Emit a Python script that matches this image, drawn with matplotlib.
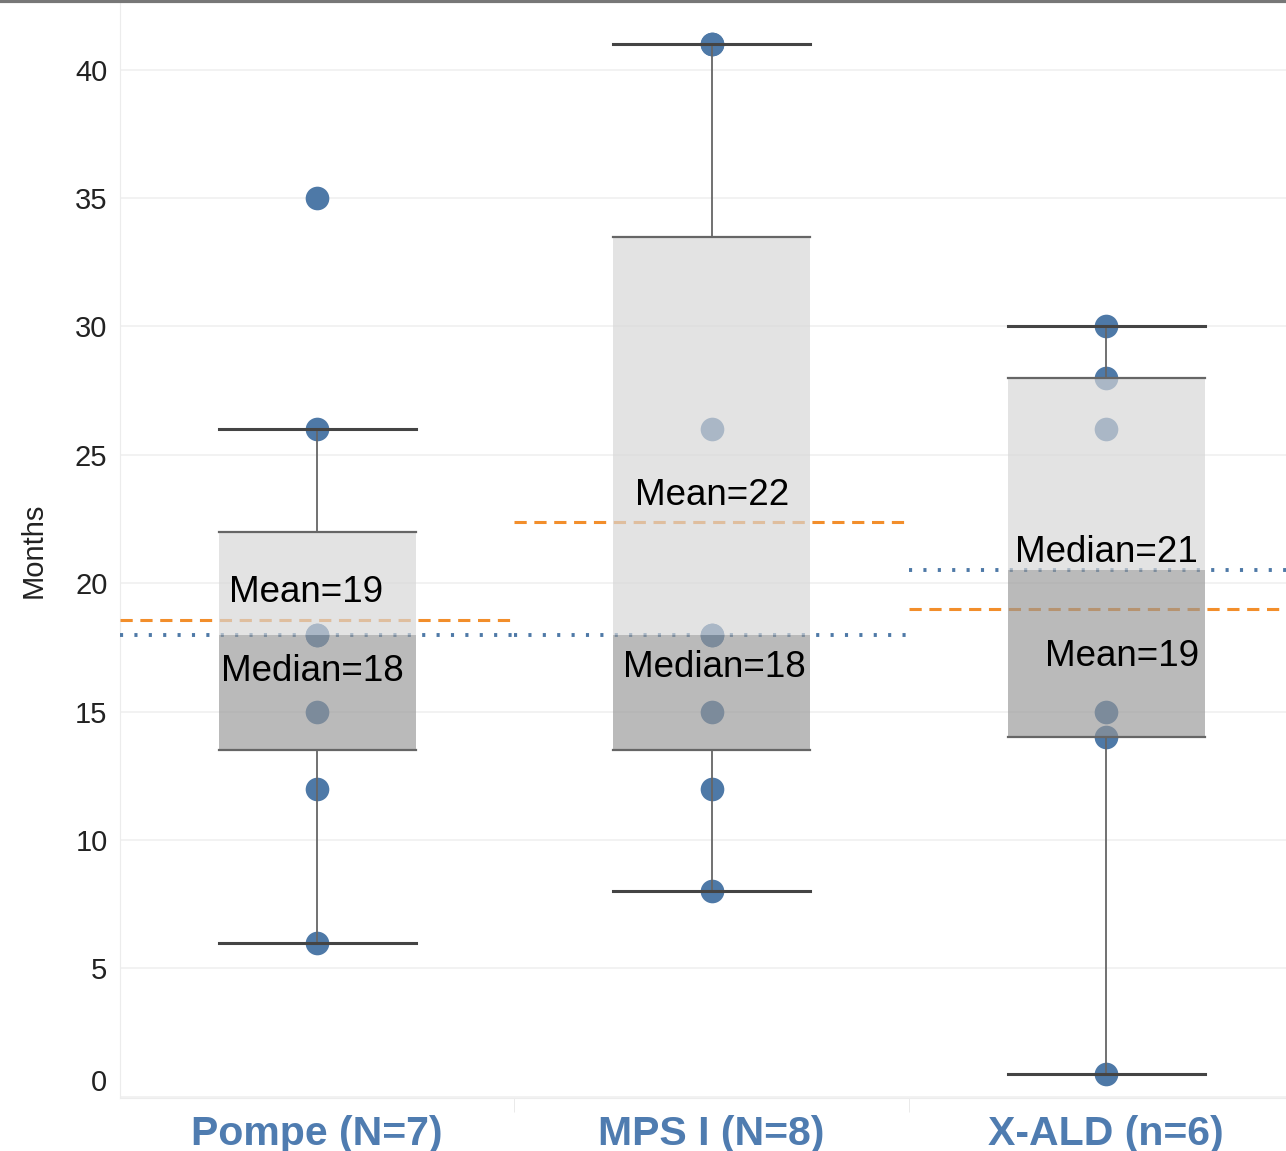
import numpy as np
import matplotlib.pyplot as plt
from matplotlib.lines import Line2D

groups = ["Pompe (N=7)", "MPS I (N=8)", "X-ALD (n=6)"]
pompe = [6, 12, 15, 18, 18, 26, 35]
mps = [8, 12, 15, 18, 18, 26, 41, 41]
xald = [0.9, 14, 15, 26, 28, 30]
q1 = [13.5, 13.5, 14]
q3 = [22, 33.5, 28]
wlo = [6, 8, 0.9]
whi = [26, 41, 30]
mean_txt = ["Mean=19", "Mean=22", "Mean=19"]
med_txt = ["Median=18", "Median=18", "Median=21"]

blue = "#4e79a7"
orange = "#f28e2b"
plt.rcParams["font.family"] = ["Liberation Sans", "DejaVu Sans"]

fig = plt.figure(figsize=(12.86, 11.51), dpi=100)
ax = fig.add_axes([120/1286, 53/1151, 1166/1286, 1095/1151])
ax.set_xlim(-0.5, 2.456)
ax.set_ylim(-0.05, 42.6)

for y in range(0, 45, 5):
    ax.axhline(y, color="#f0f0f0", lw=1.2, zorder=0)

data = [pompe, mps, xald]
hw = 0.25
for i, vals in enumerate(data):
    vals = np.array(vals)
    med = np.median(vals)
    mn = vals.mean()
    # points
    ax.scatter(np.full(len(vals), i), vals, s=290, color=blue, zorder=2, linewidths=0)
    # reference lines across the pane
    ax.plot([i - 0.5, i + 0.5], [mn, mn], color=orange, lw=2.2, ls=(0, (4, 2.5)), zorder=3)
    ax.plot([i - 0.5, i + 0.5], [med, med], color=blue, lw=2.8, ls=(0, (0.8, 2.9)), zorder=3)
    # box
    ax.fill_between([i - hw, i + hw], med, q3[i], color="#d6d6d6", alpha=0.68, lw=0, zorder=4)
    ax.fill_between([i - hw, i + hw], q1[i], med, color="#969696", alpha=0.65, lw=0, zorder=4)
    ax.plot([i - hw, i + hw], [q3[i], q3[i]], color="#666666", lw=1.6, zorder=5)
    ax.plot([i - hw, i + hw], [q1[i], q1[i]], color="#666666", lw=1.6, zorder=5)
    # whiskers
    ax.plot([i, i], [q3[i], whi[i]], color="#666666", lw=1.3, zorder=5)
    ax.plot([i, i], [wlo[i], q1[i]], color="#666666", lw=1.3, zorder=5)
    ax.plot([i - hw, i + hw], [whi[i], whi[i]], color="#444444", lw=2.2, zorder=5)
    ax.plot([i - hw, i + hw], [wlo[i], wlo[i]], color="#444444", lw=2.2, zorder=5)

# labels
mean_pos = [(-0.028, 19.64), (1.0, 23.42), (2.04, 17.15)]
med_pos = [(-0.013, 16.56), (1.006, 16.72), (2.0, 21.2)]
for i in range(3):
    ax.text(*mean_pos[i], mean_txt[i], fontsize=26.5, ha="center", va="center", zorder=6)
    ax.text(*med_pos[i], med_txt[i], fontsize=26.5, ha="center", va="center", zorder=6)

ax.set_yticks(range(0, 45, 5))
ax.set_yticklabels([str(v) for v in range(0, 45, 5)], fontsize=21, color="#222222")
ax.get_yticklabels()[0].set_va("bottom")
ax.tick_params(axis="y", length=0, pad=9)
ax.set_xticks(range(3))
ax.set_xticklabels(groups, fontsize=29.5, fontweight="bold", color="#4f7cb0")
ax.tick_params(axis="x", length=0, pad=12)
ax.set_xticks([0.5, 1.5], minor=True)
ax.tick_params(axis="x", which="minor", length=10, color="#e6e6e6", direction="out")
ax.set_ylabel("Months", fontsize=21, color="#222222")
ax.yaxis.set_label_coords(-0.062, 0.5)

for s in ["top", "right"]:
    ax.spines[s].set_visible(False)
ax.spines["left"].set_color("#ececec")
ax.spines["bottom"].set_color("#ececec")

fig.add_artist(Line2D([0, 1], [0.999, 0.999], color="#777777", lw=3, transform=fig.transFigure))

plt.savefig("out.png", dpi=100)
plt.close()
